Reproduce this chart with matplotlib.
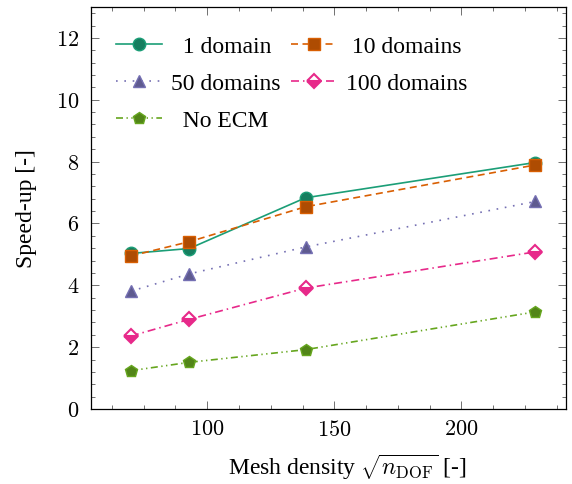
import matplotlib
matplotlib.use("Agg")
import matplotlib.pyplot as plt
from matplotlib.ticker import MultipleLocator, FuncFormatter

plt.rcParams['font.family'] = 'serif'
plt.rcParams['font.serif'] = ['Liberation Serif']
plt.rcParams['mathtext.fontset'] = 'cm'

# mesh density sqrt(n_DOF)
mesh_density = [70, 93, 138.7, 229]

# speed-up per setup
speedup_1 = [5.03, 5.19, 6.83, 7.97]
speedup_10 = [4.95, 5.41, 6.54, 7.89]
speedup_50 = [3.81, 4.37, 5.24, 6.71]
speedup_100 = [2.36, 2.90, 3.91, 5.08]
speedup_noecm = [1.24, 1.51, 1.92, 3.14]

labels = ["  1 domain", " 10 domains", "50 domains", "100 domains", "  No ECM"]

fig = plt.figure(figsize=(5.72, 4.85), dpi=100)
ax = fig.add_axes([0.159, 0.1546, 0.83, 0.829])

lw = 1.2
ms = 9
# colour, darker fill, marker, dashes
styles = [
    ('#1b9e77', '#167e5f', 'o', '-'),
    ('#d95f02', '#ae4c02', 's', (0, (4.2, 2.7))),
    ('#7570b3', '#5e5a8f', '^', (0, (1, 4))),
    ('#e7298a', '#b9216e', 'D', (0, (4.8, 2.4, 0.9, 2.4))),
    ('#66a61e', '#528518', 'p', (0, (4.2, 2.1, 0.8, 2.1, 0.8, 2.1))),
]
series = [speedup_1, speedup_10, speedup_50, speedup_100, speedup_noecm]

lines = []
for ys, lab, (c, fc, m, ls) in zip(series, labels, styles):
    kw = dict(color=c, lw=lw, ls=ls, marker=m, markersize=ms,
              markerfacecolor=fc, markeredgecolor=c, markeredgewidth=1.0,
              label=lab)
    if m == 'D':
        kw.update(markersize=7.5, fillstyle='bottom', markerfacecoloralt='white',
                  markerfacecolor=c, markeredgewidth=1.5)
    ln, = ax.plot(mesh_density, ys, **kw)
    lines.append(ln)

ax.set_xlim(54.3, 241)
ax.set_ylim(0, 13)
ax.xaxis.set_major_locator(MultipleLocator(50))
ax.xaxis.set_minor_locator(MultipleLocator(12.5))
ax.yaxis.set_major_locator(MultipleLocator(2))
ax.yaxis.set_minor_locator(MultipleLocator(0.4))
# tick numbers in math (Computer Modern) digits
math_fmt = FuncFormatter(lambda v, p: r"$%g$" % v)
ax.xaxis.set_major_formatter(math_fmt)
ax.yaxis.set_major_formatter(math_fmt)
ax.tick_params(which='both', direction='in', top=True, right=True,
               labelsize=16, width=0.6, color='0.35')
ax.tick_params(which='major', length=5.5)
ax.tick_params(axis='x', which='major', pad=8)
ax.tick_params(axis='y', which='major', pad=8.5)
ax.tick_params(which='minor', length=3)
for s in ax.spines.values():
    s.set_linewidth(0.9)

ax.set_xlabel(r"Mesh density $\sqrt{n_{\mathrm{DOF}}}$ [-]", fontsize=17)
ax.xaxis.set_label_coords(0.539, -0.105)
ax.set_ylabel("Speed-up [-]", fontsize=17)
ax.yaxis.set_label_coords(-0.113, 0.5)

# row-wise legend order (matplotlib fills columns first)
order = [0, 2, 4, 1, 3]
ax.legend([lines[i] for i in order], [labels[i] for i in order],
          loc='upper left', bbox_to_anchor=(0.0335, 0.953), borderaxespad=0,
          ncol=2, frameon=False, fontsize=17,
          handlelength=1.95, handletextpad=0.35, columnspacing=0.48,
          labelspacing=0.66)

fig.savefig("out.png", dpi=100)
